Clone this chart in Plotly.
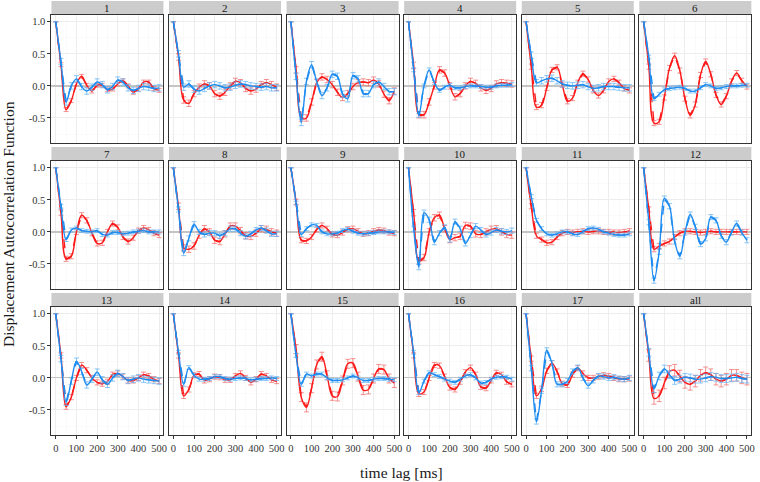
import plotly.graph_objects as go

# time lags [ms]
lags = [0, 25, 50, 75, 100, 125, 150, 175, 200, 225, 250, 275, 300, 325, 350, 375, 400, 425, 450, 475, 500]
facet_labels = ["1", "2", "3", "4", "5", "6", "7", "8", "9", "10", "11", "12", "13", "14", "15", "16", "17", "all"]

red_1 = [1.0, 0.33, -0.37, -0.23, 0.03, 0.15, 0.01, -0.08, 0.01, 0.01, -0.06, -0.05, 0.03, 0.08, 0.0, -0.10, -0.05, 0.06, 0.06, -0.04, -0.07]
blue_1 = [1.0, 0.38, -0.25, 0.0, 0.11, -0.01, -0.08, -0.02, 0.06, 0.02, -0.06, -0.01, 0.09, 0.06, -0.03, -0.07, -0.04, -0.01, -0.02, -0.04, -0.03]
red_2 = [1.0, 0.45, -0.22, -0.27, -0.12, -0.02, 0.03, 0.0, -0.12, -0.16, -0.10, 0.0, 0.07, 0.05, -0.04, -0.08, -0.05, 0.02, 0.05, 0.02, -0.02]
blue_2 = [1.0, 0.5, -0.02, 0.03, -0.05, -0.08, -0.04, 0.0, 0.02, 0.0, -0.03, -0.02, 0.01, 0.03, 0.02, 0.0, -0.01, -0.02, -0.01, -0.03, -0.03]
red_3 = [1.0, 0.25, -0.5, -0.5, -0.25, 0.05, 0.14, 0.10, 0.02, -0.10, -0.18, -0.12, -0.01, 0.05, 0.06, 0.05, 0.09, 0.03, -0.13, -0.23, -0.08]
blue_3 = [1.0, 0.15, -0.57, 0.07, 0.33, 0.06, -0.15, -0.03, 0.18, 0.15, -0.13, -0.20, 0.16, 0.11, -0.12, -0.12, 0.02, 0.06, -0.01, -0.09, -0.09]
red_4 = [1.0, 0.32, -0.45, -0.45, -0.25, 0.0, 0.25, 0.20, 0.0, -0.17, -0.12, 0.0, 0.07, 0.04, -0.03, -0.07, -0.04, 0.03, 0.05, 0.04, 0.03]
blue_4 = [1.0, 0.25, -0.46, 0.0, 0.25, 0.05, -0.07, -0.02, 0.01, -0.03, -0.03, -0.01, 0.0, 0.0, -0.01, -0.02, -0.02, 0.0, 0.01, 0.01, 0.02]
red_5 = [1.0, 0.3, -0.33, -0.30, -0.03, 0.25, 0.29, 0.02, -0.24, -0.19, 0.05, 0.19, 0.10, -0.07, -0.15, -0.07, 0.07, 0.11, 0.05, -0.04, -0.07]
blue_5 = [1.0, 0.48, 0.05, 0.08, 0.11, 0.12, 0.08, 0.03, 0.01, 0.0, 0.01, 0.02, -0.01, -0.04, -0.03, -0.01, -0.01, -0.01, -0.02, -0.03, -0.03]
red_6 = [1.0, 0.3, -0.58, -0.56, -0.18, 0.28, 0.47, 0.24, -0.20, -0.46, -0.29, 0.17, 0.38, 0.18, -0.14, -0.29, -0.16, 0.07, 0.20, 0.08, -0.01]
blue_6 = [1.0, 0.45, -0.20, -0.13, -0.06, -0.04, -0.03, -0.02, -0.04, -0.08, -0.08, -0.03, 0.02, 0.0, -0.04, -0.03, -0.01, 0.0, 0.0, 0.01, 0.01]
red_7 = [1.0, 0.3, -0.42, -0.38, 0.0, 0.26, 0.18, -0.02, -0.18, -0.17, 0.0, 0.13, 0.07, -0.08, -0.15, -0.09, 0.02, 0.06, 0.03, -0.02, -0.05]
blue_7 = [1.0, 0.4, -0.12, 0.03, 0.06, 0.02, 0.01, 0.0, 0.02, -0.04, -0.05, -0.01, -0.01, -0.03, -0.02, 0.0, 0.01, 0.02, 0.0, 0.0, 0.0]
red_8 = [1.0, 0.4, -0.25, -0.27, -0.22, -0.05, 0.05, 0.0, -0.13, -0.15, -0.03, 0.09, 0.09, 0.02, -0.06, -0.07, -0.02, 0.05, 0.04, 0.0, -0.02]
blue_8 = [1.0, 0.35, -0.33, -0.10, 0.12, 0.0, -0.04, -0.02, -0.02, -0.06, -0.02, 0.05, 0.05, -0.02, -0.07, -0.03, 0.03, 0.06, 0.02, -0.03, -0.03]
red_9 = [1.0, 0.47, -0.13, -0.14, -0.08, 0.04, 0.10, 0.05, -0.04, -0.05, -0.01, 0.04, 0.05, 0.01, -0.03, -0.02, 0.01, 0.03, 0.02, -0.01, -0.02]
blue_9 = [1.0, 0.45, -0.04, 0.05, 0.11, 0.10, 0.0, -0.03, -0.03, -0.02, 0.02, 0.04, 0.01, -0.02, -0.03, -0.02, -0.01, 0.0, 0.0, 0.0, -0.01]
red_10 = [1.0, 0.3, -0.45, -0.40, 0.0, 0.22, 0.26, 0.05, -0.12, -0.09, -0.07, 0.10, 0.09, -0.03, -0.04, 0.0, 0.04, 0.05, 0.0, -0.04, -0.05]
blue_10 = [1.0, 0.05, -0.55, 0.30, 0.19, -0.16, -0.02, 0.07, -0.12, 0.16, 0.05, -0.18, -0.05, 0.09, 0.03, -0.04, -0.01, 0.03, 0.01, 0.0, 0.02]
red_11 = [1.0, 0.4, -0.06, -0.12, -0.17, -0.16, -0.08, -0.02, 0.0, -0.01, 0.0, 0.01, 0.0, 0.01, 0.01, 0.0, 0.0, -0.01, -0.01, 0.0, 0.01]
blue_11 = [1.0, 0.55, 0.18, 0.05, -0.03, -0.05, -0.03, 0.0, 0.0, -0.03, -0.04, 0.0, 0.05, 0.06, 0.04, 0.0, -0.02, -0.04, -0.05, -0.05, -0.03]
red_12 = [1.0, 0.35, -0.27, -0.22, -0.18, -0.15, -0.08, -0.02, 0.01, 0.01, 0.0, -0.01, 0.0, 0.01, 0.0, 0.0, 0.0, 0.0, 0.0, 0.0, 0.0]
blue_12 = [1.0, 0.15, -0.76, -0.31, 0.52, 0.40, -0.15, -0.38, -0.01, 0.27, 0.08, -0.19, -0.10, 0.23, 0.18, -0.06, -0.16, -0.01, 0.13, -0.01, -0.13]
red_13 = [1.0, 0.35, -0.45, -0.30, 0.0, 0.20, 0.12, 0.0, -0.07, -0.09, -0.06, 0.05, 0.07, 0.02, -0.04, -0.04, 0.0, 0.05, 0.03, -0.02, -0.05]
blue_13 = [1.0, 0.3, -0.38, -0.05, 0.26, 0.10, -0.11, -0.02, 0.09, -0.03, -0.10, 0.0, 0.07, 0.02, -0.04, -0.02, 0.0, -0.02, -0.03, -0.04, -0.05]
red_14 = [1.0, 0.35, -0.28, -0.18, 0.04, 0.06, -0.04, -0.02, 0.02, 0.01, -0.03, -0.03, 0.03, 0.07, 0.0, -0.07, -0.02, 0.06, 0.03, -0.03, -0.05]
blue_14 = [1.0, 0.4, -0.10, 0.16, 0.04, -0.02, -0.02, -0.01, 0.02, 0.02, -0.01, -0.02, -0.01, 0.0, -0.01, -0.03, -0.02, -0.01, -0.01, 0.0, -0.01]
red_15 = [1.0, 0.45, -0.30, -0.46, -0.16, 0.21, 0.33, 0.04, -0.28, -0.29, -0.04, 0.22, 0.23, 0.02, -0.19, -0.18, -0.01, 0.14, 0.13, -0.01, -0.08]
blue_15 = [1.0, 0.35, -0.10, 0.06, 0.03, 0.06, 0.06, 0.0, -0.04, -0.04, -0.03, 0.0, 0.03, 0.0, -0.04, -0.04, -0.02, -0.01, -0.01, -0.02, -0.03]
red_16 = [1.0, 0.35, -0.25, -0.22, 0.0, 0.20, 0.19, 0.02, -0.15, -0.18, -0.06, 0.09, 0.16, 0.05, -0.14, -0.16, -0.04, 0.08, 0.05, -0.06, -0.10]
blue_16 = [1.0, 0.4, -0.23, -0.05, 0.08, 0.05, 0.02, -0.02, -0.05, -0.07, -0.02, 0.03, 0.05, 0.0, -0.08, -0.07, -0.02, 0.01, 0.02, 0.01, -0.02]
red_17 = [1.0, 0.3, -0.28, -0.17, 0.11, 0.23, 0.10, -0.09, -0.11, 0.05, 0.15, 0.07, 0.0, 0.0, 0.02, 0.04, 0.03, 0.0, -0.02, -0.02, -0.01]
blue_17 = [1.0, 0.15, -0.68, -0.20, 0.43, 0.23, -0.10, -0.10, -0.05, 0.10, 0.16, 0.0, -0.12, -0.04, 0.03, 0.02, 0.0, 0.01, -0.01, -0.02, 0.0]
red_all = [1.0, 0.35, -0.32, -0.28, -0.08, 0.10, 0.12, 0.03, -0.07, -0.10, -0.05, 0.04, 0.08, 0.05, -0.02, -0.05, -0.02, 0.04, 0.04, 0.0, -0.02]
blue_all = [1.0, 0.4, -0.17, 0.03, 0.14, 0.05, -0.04, -0.02, 0.01, 0.0, -0.02, -0.02, 0.0, 0.02, 0.01, -0.01, -0.01, 0.0, 0.01, -0.01, -0.02]

err_red = [0.03, 0.05, 0.05, 0.05, 0.04, 0.04, 0.04, 0.05, 0.04, 0.05, 0.04, 0.04, 0.04, 0.04, 0.07, 0.04, 0.04, 0.09]
err_blue = [0.05, 0.05, 0.05, 0.03, 0.05, 0.03, 0.03, 0.04, 0.03, 0.04, 0.03, 0.04, 0.05, 0.03, 0.03, 0.03, 0.04, 0.06]

red_series = [red_1, red_2, red_3, red_4, red_5, red_6, red_7, red_8, red_9, red_10,
              red_11, red_12, red_13, red_14, red_15, red_16, red_17, red_all]
blue_series = [blue_1, blue_2, blue_3, blue_4, blue_5, blue_6, blue_7, blue_8, blue_9, blue_10,
               blue_11, blue_12, blue_13, blue_14, blue_15, blue_16, blue_17, blue_all]

W, H = 760, 482
FONT = "Liberation Serif"
RED = "#FF1A1A"
BLUE = "#1E8CF0"
RED_ERR = "rgba(240,110,110,0.75)"
BLUE_ERR = "rgba(100,180,245,0.75)"

fig = go.Figure()
layout = dict(width=W, height=H, margin=dict(l=0, r=0, t=0, b=0),
              paper_bgcolor="white", plot_bgcolor="white", showlegend=False,
              font=dict(family=FONT, color="#333333"))
shapes = []
annotations = []

left0, col_step, pw = 51.7, 118.2, 112.6
top0, row_step, ph = 15.0, 146.0, 128.0
strip_h = 14.0

for k in range(18):
    r, c = divmod(k, 6)
    xl = left0 + c * col_step
    xr = xl + pw
    yt = top0 + r * row_step
    yb = yt + ph
    sfx = "" if k == 0 else str(k + 1)
    xname, yname = "x" + sfx, "y" + sfx
    bottom = (r == 2)
    leftc = (c == 0)
    layout["xaxis" + sfx] = dict(
        domain=[xl / W, xr / W], anchor=yname, range=[-21, 521],
        tickvals=[0, 100, 200, 300, 400, 500], showticklabels=bottom,
        ticks="outside" if bottom else "", ticklen=3, tickcolor="#333333",
        tickfont=dict(size=10.5, family=FONT, color="#333333"),
        showgrid=True, gridcolor="#EDEDED", gridwidth=1,
        minor=dict(tickvals=[50, 150, 250, 350, 450], showgrid=True, gridcolor="#F6F6F6", gridwidth=0.6),
        showline=True, mirror=True, linecolor="#333333", linewidth=1, zeroline=False)
    layout["yaxis" + sfx] = dict(
        domain=[1 - yb / H, 1 - yt / H], anchor=xname, range=[-0.89, 1.105],
        tickvals=[-0.5, 0, 0.5, 1.0], ticktext=["-0.5", "0.0", "0.5", "1.0"],
        showticklabels=leftc, ticks="outside" if leftc else "", ticklen=3, tickcolor="#333333",
        tickfont=dict(size=10.5, family=FONT, color="#333333"),
        showgrid=True, gridcolor="#EDEDED", gridwidth=1,
        minor=dict(tickvals=[-0.75, -0.25, 0.25, 0.75], showgrid=True, gridcolor="#F6F6F6", gridwidth=0.6),
        showline=True, mirror=True, linecolor="#333333", linewidth=1,
        zeroline=True, zerolinecolor="#C4C4C4", zerolinewidth=1.2)

    # strip
    shapes.append(dict(type="rect", xref="paper", yref="paper",
                       x0=xl / W, x1=xr / W, y0=1 - yt / H, y1=1 - (yt - strip_h) / H,
                       fillcolor="#CCCCCC", line=dict(width=0), layer="below"))
    annotations.append(dict(text=facet_labels[k], xref="paper", yref="paper",
                            x=(xl + xr) / 2 / W, y=1 - (yt - strip_h / 2) / H,
                            showarrow=False, xanchor="center", yanchor="middle",
                            font=dict(size=11, family=FONT, color="#1A1A1A")))

    for vals, col, ecol, e in ((red_series[k], RED, RED_ERR, err_red[k]),
                               (blue_series[k], BLUE, BLUE_ERR, err_blue[k])):
        errs = [0.0] + [e] * (len(lags) - 1)
        fig.add_trace(go.Scatter(
            x=lags, y=vals, xaxis=xname, yaxis=yname, mode="lines",
            line=dict(color=col, width=1.4, dash="dash"),
            error_y=dict(type="data", array=errs, color=ecol, thickness=1, width=2.5),
            hoverinfo="skip"))
        fig.add_trace(go.Scatter(
            x=lags, y=vals, xaxis=xname, yaxis=yname, mode="lines",
            line=dict(color=col, width=1.4, shape="spline", smoothing=1.0),
            hoverinfo="skip"))

annotations.append(dict(text="time lag [ms]", xref="paper", yref="paper",
                        x=404 / W, y=1 - 472 / H, showarrow=False,
                        xanchor="center", yanchor="middle",
                        font=dict(size=15.5, family=FONT, color="#1A1A1A")))
annotations.append(dict(text="Displacement Autocorrelation Function", xref="paper", yref="paper",
                        x=8 / W, y=1 - 224 / H, showarrow=False, textangle=-90,
                        xanchor="center", yanchor="middle",
                        font=dict(size=15.5, family=FONT, color="#1A1A1A")))

layout["shapes"] = shapes
layout["annotations"] = annotations
fig.update_layout(**layout)
fig.write_html("out.html",
               config={"displayModeBar": False, "staticPlot": True},
               post_script="document.body.style.margin='0';document.body.style.overflow='hidden';")
